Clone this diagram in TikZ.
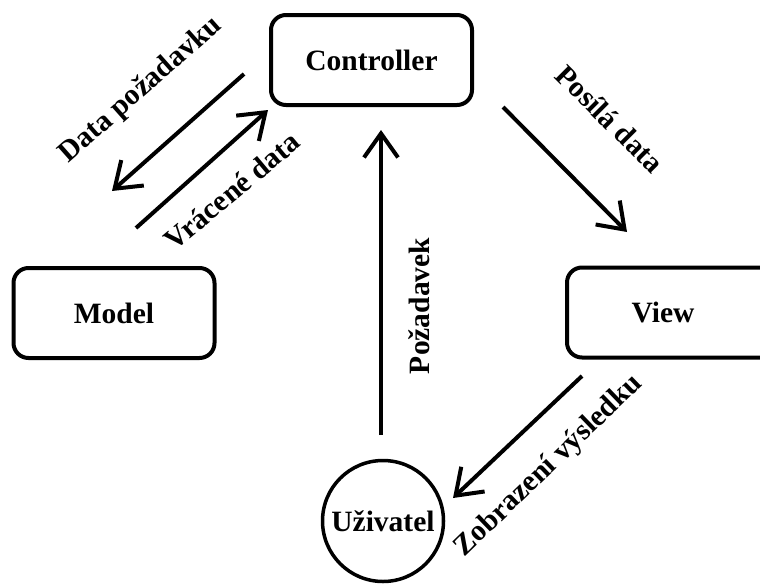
\documentclass[tikz,border=0pt]{standalone}
\usepackage{fontspec}
\setmainfont{Liberation Serif}
\usetikzlibrary{arrows.meta}
\begin{document}
\begin{tikzpicture}[x=1pt,y=-1pt,
  every node/.style={font=\fontsize{29.5}{34}\selectfont\bfseries},
  part/.style={draw, line width=4pt, rounded corners=15pt, minimum width=201pt, minimum height=90pt, inner sep=0pt},
  actor/.style={draw, circle, line width=3.5pt, minimum size=121pt, inner sep=0pt},
  flow/.style={line width=4pt, -{Straight Barb[length=24pt,width=34pt]}},
  tag/.style={inner sep=0pt}]
\useasboundingbox (0,0) rectangle (760,587);
\clip (0,0) rectangle (760,587);

% components
\node[part] (controller) at (371.5,60) {Controller};
\node[part] (model) at (114,313) {Model};
\node[part, minimum width=214pt] (view) at (674,312.5) {View\hspace*{22pt}};
\node[actor] (user) at (383,521) {Uživatel};

% arrow end points
\coordinate (dpA) at (244,74);   \coordinate (dpB) at (112,191);
\coordinate (vdA) at (136,228);  \coordinate (vdB) at (268,110);
\coordinate (pzA) at (381,435);  \coordinate (pzB) at (381,130);
\coordinate (pdA) at (503,107);  \coordinate (pdB) at (627,232);
\coordinate (zvA) at (582,376);  \coordinate (zvB) at (453,498);

\draw[flow] (dpA) -- (dpB);
\draw[flow] (vdA) -- (vdB);
\draw[flow] (pzA) -- (pzB);
\draw[flow] (pdA) -- (pdB);
\draw[flow] (zvA) -- (zvB);

% labels
\node[tag, rotate=41.5] (lblDP) at (141,90) {Data požadavku};
\node[tag, rotate=40] (lblVD) at (232,191) {Vrácené data};
\node[tag, rotate=90] (lblPZ) at (419,306) {Požadavek};
\node[tag, rotate=-45] (lblPD) at (610,119) {Posílá data};
\node[tag, rotate=44] (lblZV) at (549,466) {Zobrazení výsledku};
\end{tikzpicture}
\end{document}
